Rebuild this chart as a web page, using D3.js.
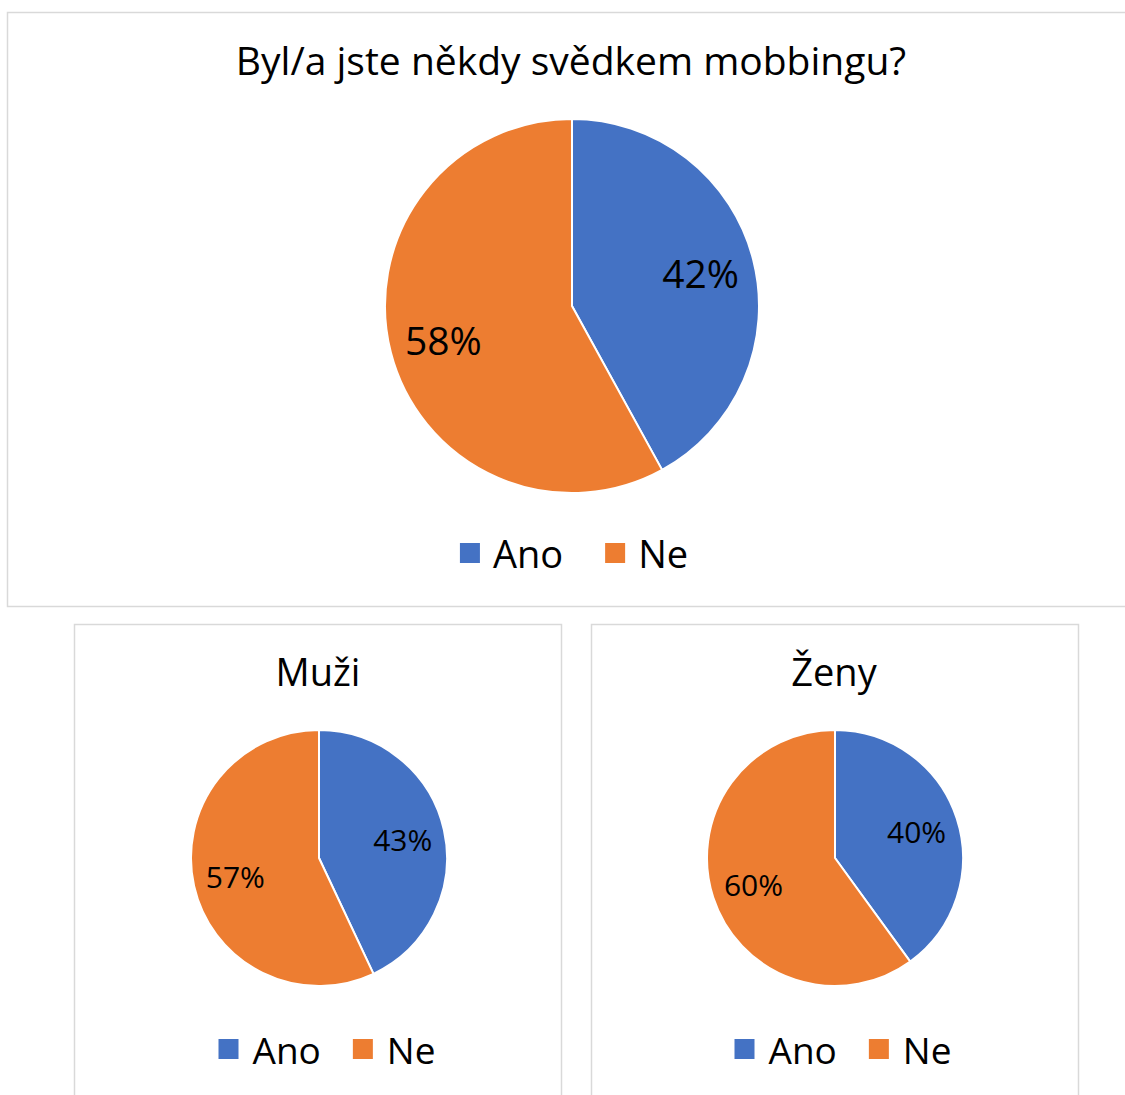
<!DOCTYPE html>
<html><head><meta charset="utf-8">
<script src="https://cdn.jsdelivr.net/npm/d3@7"></script>
<style>body{margin:0;background:#fff}svg{display:block}text{font-family:"Open Sans",Lato,sans-serif;fill:#000}</style>
</head><body>
<svg id="c" width="1125" height="1095"></svg>
<script>
const categories = ["Ano", "Ne"];
const colors = ["#4472C4", "#ED7D31"];
const titles = ["Byl/a jste někdy svědkem mobbingu?", "Muži", "Ženy"];
const valuesAll = [42, 58];
const valuesMuzi = [43, 57];
const valuesZeny = [40, 60];

const svg = d3.select("#c");
const color = d3.scaleOrdinal(categories, colors);

const charts = [
  {title: titles[0], values: valuesAll, box:[7.5,12.5,1130,594], cx:572, cy:306, r:187, titleX:571, titleY:59, titleSize:39, labelSize:39, lf:0.71, legX:574, legY:553, legSize:38, sq:20, gapSq:13, gapItem:42},
  {title: titles[1], values: valuesMuzi, box:[74.5,624.5,487,500], cx:319, cy:858, r:128, titleX:318, titleY:671, titleSize:38, labelSize:30, lf:0.67, legX:327, legY:1049, legSize:37, sq:20, gapSq:14, gapItem:32},
  {title: titles[2], values: valuesZeny, box:[591.5,624.5,487,500], cx:835, cy:858, r:128, titleX:834, titleY:671, titleSize:38, labelSize:30, lf:0.67, legX:843, legY:1049, legSize:37, sq:20, gapSq:14, gapItem:32}
];

const pie = d3.pie().sort(null).value(d => d.v).startAngle(0).endAngle(2*Math.PI);

charts.forEach(c => {
  const [bx,by,bw,bh] = c.box;
  svg.append("rect").attr("x",bx).attr("y",by).attr("width",bw).attr("height",bh)
    .attr("fill","#fff").attr("stroke","#d9d9d9").attr("stroke-width",1.5);
  svg.append("text").attr("x", c.titleX).attr("y", c.titleY).attr("text-anchor","middle")
    .attr("dominant-baseline","central").style("font-size", c.titleSize+"px").text(c.title);
  const data = categories.map((k,i)=>({k, v:c.values[i]}));
  const arcs = pie(data);
  const arc = d3.arc().innerRadius(0).outerRadius(c.r);
  const lab = d3.arc().innerRadius(c.r*c.lf).outerRadius(c.r*c.lf);
  const g = svg.append("g").attr("transform",`translate(${c.cx},${c.cy})`);
  g.selectAll("path").data(arcs).join("path").attr("d",arc).attr("fill",d=>color(d.data.k))
    .attr("stroke","#fff").attr("stroke-width",2).attr("stroke-linejoin","round");
  g.selectAll("text").data(arcs).join("text")
    .attr("transform", d => `translate(${lab.centroid(d)})`)
    .attr("text-anchor","middle").attr("dominant-baseline","central")
    .style("font-size", c.labelSize+"px").text(d => d.data.v + "%");
  const lg = svg.append("g");
  const items = lg.selectAll("g").data(categories).join("g");
  items.append("rect").attr("width",c.sq).attr("height",c.sq).attr("y",-c.sq/2).attr("fill",d=>color(d));
  items.append("text").attr("x", c.sq + c.gapSq).attr("dominant-baseline","central")
    .style("font-size", c.legSize+"px").text(d=>d);
  let x = 0;
  items.each(function(d,i){
    const w = c.sq + c.gapSq + d3.select(this).select("text").node().getComputedTextLength();
    d3.select(this).attr("transform",`translate(${x},0)`);
    x += w + (i < categories.length-1 ? c.gapItem : 0);
  });
  lg.attr("transform",`translate(${c.legX - x/2},${c.legY})`);
});
</script>
</body></html>
